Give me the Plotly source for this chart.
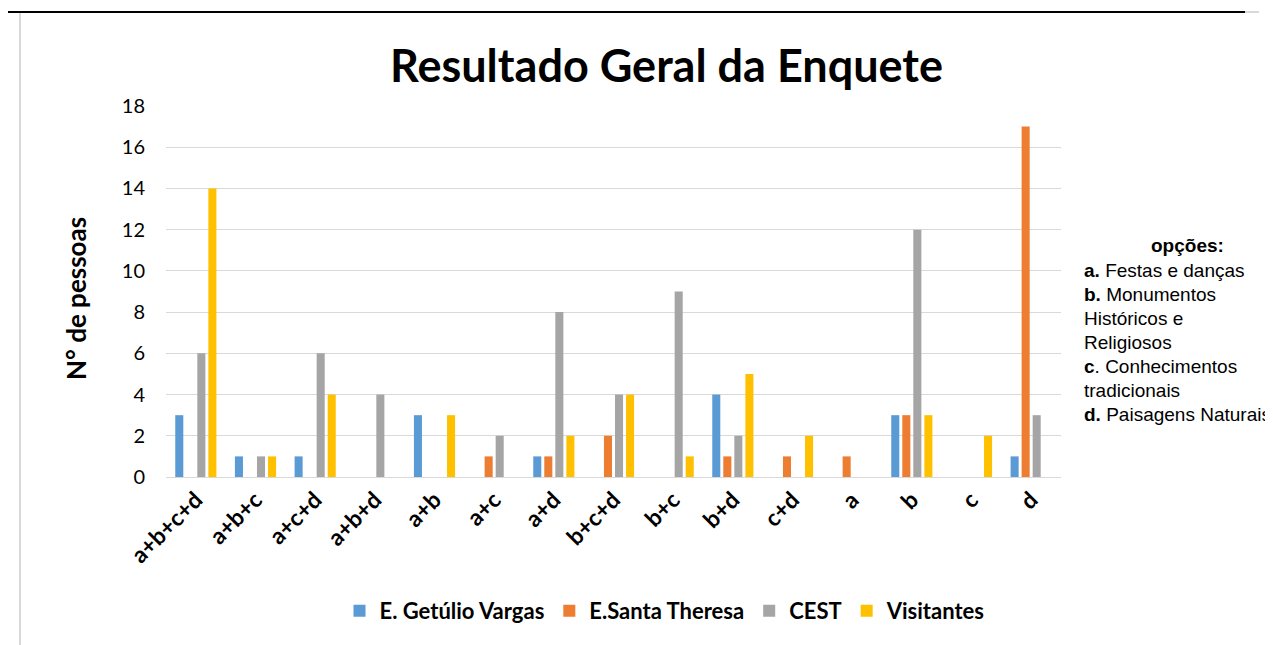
import plotly.graph_objects as go

categories = ["a+b+c+d", "a+b+c", "a+c+d", "a+b+d", "a+b", "a+c", "a+d", "b+c+d",
              "b+c", "b+d", "c+d", "a", "b", "c", "d"]
getulio = [3, 1, 1, 0, 3, 0, 1, 0, 0, 4, 0, 0, 3, 0, 1]
santa = [0, 0, 0, 0, 0, 1, 1, 2, 0, 1, 1, 1, 3, 0, 17]
cest = [6, 1, 6, 4, 0, 2, 8, 4, 9, 2, 0, 0, 12, 0, 3]
visitantes = [14, 1, 4, 0, 3, 0, 2, 4, 1, 5, 2, 0, 3, 2, 0]
series_names = ["E. Getúlio Vargas", "E.Santa Theresa", "CEST", "Visitantes"]
colors = ["#5B9BD5", "#ED7D31", "#A5A5A5", "#FFC000"]
y_ticks = [0, 2, 4, 6, 8, 10, 12, 14, 16, 18]
option_title = "opções:"
option_lines = ["<b>a.</b> Festas e danças", "<b>b.</b> Monumentos", "Históricos e",
                "Religiosos", "<b>c</b>. Conhecimentos", "tradicionais",
                "<b>d.</b> Paisagens Naturais"]

OFF = 8  # page body margin
W, H = 1273 - OFF, 645 - OFF
PL, PR, PT, PB = 166, 1061, 106, 477  # plot area in page pixels


def px(x):
    return (x - PL) / (PR - PL)


def py(y):
    return (PB - y) / (PB - PT)


fig = go.Figure()
for name, vals, col in zip(series_names, [getulio, santa, cest, visitantes], colors):
    fig.add_trace(go.Bar(x=categories, y=vals, name="<b>" + name + "</b>",
                         marker_color=col, marker_line_width=0))

font_main = "Lato, Calibri, Carlito, sans-serif"
fig.update_layout(
    width=W, height=H,
    margin=dict(l=PL - OFF, r=W - (PR - OFF), t=PT - OFF, b=H - (PB - OFF), pad=0),
    plot_bgcolor="white", paper_bgcolor="white",
    barmode="group", bargap=0.26, bargroupgap=0.27,
    showlegend=True,
    legend=dict(orientation="h", xref="container", yref="container",
                x=(665 - OFF) / W, y=1 - (611 - OFF) / H,
                xanchor="center", yanchor="middle",
                font=dict(family=font_main, size=22, color="#000000"),
                itemwidth=30, traceorder="normal"),
    font=dict(family=font_main),
)
fig.update_xaxes(tickangle=-45, showgrid=False, showline=False, ticks="",
                 tickfont=dict(family=font_main, size=23, color="#000000",
                               weight="bold"),
                 ticklabelstandoff=4)
fig.update_yaxes(range=[0, 18], tickvals=y_ticks, showgrid=True,
                 gridcolor="#D9D9D9", gridwidth=1, zeroline=True,
                 zerolinecolor="#D9D9D9", zerolinewidth=1, showline=False,
                 ticks="", tickfont=dict(family=font_main, size=20, color="#000000"),
                 ticklabelstandoff=20)

# Title
fig.add_annotation(text="<b>Resultado Geral da Enquete</b>", xref="paper", yref="paper",
                   x=px(666), y=py(65), xanchor="center", yanchor="middle",
                   showarrow=False, font=dict(family=font_main, size=45, color="#000000"))
# Y-axis title
fig.add_annotation(text="<b>N° de pessoas</b>", xref="paper", yref="paper",
                   x=px(76), y=py(299), xanchor="center", yanchor="middle",
                   textangle=-90, showarrow=False,
                   font=dict(family=font_main, size=26, color="#000000"))
# Options legend text
arial = "Liberation Sans, Arial, sans-serif"
fig.add_annotation(text="<b>" + option_title + "</b>", xref="paper", yref="paper",
                   x=px(1187), y=py(245), xanchor="center", yanchor="middle",
                   showarrow=False, font=dict(family=arial, size=19, color="#000000"))
for i, line in enumerate(option_lines):
    fig.add_annotation(text=line, xref="paper", yref="paper",
                       x=px(1082), y=py(270 + i * 24.1), xanchor="left",
                       yanchor="middle", align="left", showarrow=False,
                       font=dict(family=arial, size=19, color="#000000"))

# Frame lines
fig.add_shape(type="line", xref="paper", yref="paper", x0=px(5), x1=px(1245),
              y0=py(12), y1=py(12), line=dict(color="#000000", width=2))
fig.add_shape(type="line", xref="paper", yref="paper", x0=px(1245), x1=px(1259),
              y0=py(12), y1=py(12), line=dict(color="#D9D9D9", width=2))
fig.add_shape(type="line", xref="paper", yref="paper", x0=px(20), x1=px(20),
              y0=py(13), y1=py(645), line=dict(color="#D9D9D9", width=2))

fig.write_html("out.html")
